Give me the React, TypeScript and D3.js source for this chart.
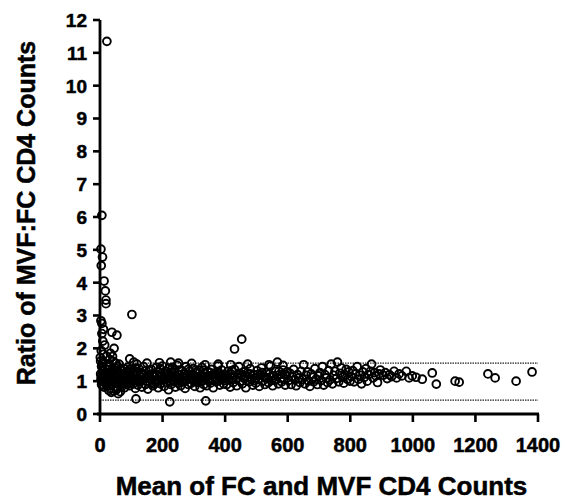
import React from "react";
import * as d3 from "d3";

const xTicks = [0, 200, 400, 600, 800, 1000, 1200, 1400];
const yTicks = [0, 1, 2, 3, 4, 5, 6, 7, 8, 9, 10, 11, 12];
const limitLines = [1.55, 0.42];
const xTitle = "Mean of FC and MVF CD4 Counts";
const yTitle = "Ratio of MVF:FC CD4 Counts";

// [mean CD4 count, ratio MVF:FC]
const lowCountPoints: [number, number][] = [
  [22,11.35],[6,6.05],[3,5.02],[8,4.78],[4,4.52],[13,4.05],[17,3.75],[19,3.47],[19,3.36],[3,2.84],[6,2.76],[11,2.58],[6,2.45],[38,2.49],[54,2.4],[45,2.0],[102,3.03],[9,2.22],[15,2.1],[4,1.93],[11,1.82],[21,1.76],[31,1.66],[2,1.61],[42,1.6],[50,1.55],[26,1.5],[61,1.52],[95,1.68],[5,1.45],[8,1.3],[12,1.2],[15,1.1],[18,0.95],[22,0.85],[25,1.35],[28,1.05],[32,0.78],[35,1.25],[38,0.92],[42,1.15],[45,0.7],[48,1.4],[52,1.0],[55,0.82],[58,1.22],[62,1.12],[65,0.68],[68,0.9],[72,1.32],[75,1.05],[78,0.8],[82,1.18],[85,0.95],[88,1.42],[92,1.08],[95,0.86],[98,1.28],[3,1.05],[7,0.88],[10,1.15],[14,0.98],[17,1.38],[21,1.25],[24,0.95],[27,1.12],[31,1.48],[34,1.02],[37,0.88],[41,1.3],[44,1.08],[47,0.96],[51,1.18],[56,1.45],[60,0.95],[64,1.25],[67,1.08],[70,0.84],[74,1.2],[77,1.38],[81,1.0],[84,1.28],[87,0.9],[91,1.15],[94,1.35],[97,1.02],[1,1.72],[2,1.22],[5,0.9],[9,1.55],[13,0.82],[28,0.72],[36,0.66],[52,0.74],[58,0.62],[40,1.75],[33,1.85],
  [4,1.15],[7,1.42],[11,1.02],[16,1.25],[20,1.12],[23,1.45],[29,1.2],[33,1.1],[39,1.02],[43,1.24],[49,1.12],[53,1.3],[57,1.05],[63,1.0],[66,1.35],[71,1.14],[76,0.96],[80,1.22],[86,1.1],[90,1.3],[93,0.98],[99,1.14]
];

const midCountPoints: [number, number][] = [
  [115,0.46],[223,0.37],[338,0.4],
  [108,1.58],[118,1.52],[150,1.55],[190,1.56],[226,1.58],[251,1.55],[293,1.54],[336,1.5],[378,1.52],
  [104,1.12],[106,0.92],[109,1.3],[111,1.02],[113,0.78],[116,1.22],[119,1.08],[121,0.88],[124,1.38],[126,1.15],[129,0.98],[131,1.26],[134,0.82],[137,1.05],[139,1.44],[142,1.18],[145,0.9],[147,1.32],[150,1.0],[153,0.76],[156,1.2],[158,1.1],[161,0.94],[164,1.36],[166,1.06],[169,0.86],[172,1.24],[175,1.14],[177,0.98],[180,1.42],[183,1.02],[186,0.8],[188,1.28],[191,1.12],[194,0.92],[197,1.18],[199,1.46],[202,1.04],[205,0.84],[208,1.3],[210,1.08],[213,0.96],[216,1.22],[219,0.74],[221,1.4],[224,1.1],[227,0.9],[230,1.26],[233,1.16],[235,1.0],[238,1.34],[241,0.82],[244,1.14],[247,1.48],[249,0.94],[252,1.2],[255,1.06],[258,0.86],[261,1.32],[263,1.12],[266,0.98],[269,1.24],[272,0.78],[275,1.44],[278,1.04],[280,1.16],[283,0.9],[286,1.3],[289,1.08],[292,0.94],[295,1.2],[298,1.38],[300,1.0],[303,0.84],[306,1.26],[309,1.12],[312,0.96],[315,1.34],[318,1.06],[320,0.8],[323,1.18],[326,1.42],[329,1.02],[332,0.9],[335,1.24],[338,1.1],[341,0.86],[344,1.3],[347,1.04],[350,1.16],[353,0.94],[356,1.36],[359,1.08],[362,0.8],[365,1.22],[368,1.12],[371,0.98],[374,1.28],[377,1.46],[380,1.02],[383,0.88],[386,1.18],[389,1.34],[392,1.06],[395,0.92],[398,1.2],
  [107,1.2],[128,1.05],[148,1.12],[168,1.18],[187,1.0],[207,1.15],[228,1.05],[248,1.1],[268,1.02],[287,1.18],[308,1.05],[328,1.14],[348,1.0],[367,1.24],[387,1.1],
  [112,1.4],[123,1.0],[135,1.22],[144,1.08],[157,1.32],[163,1.04],[174,0.92],[182,1.2],[193,1.38],[203,1.12],[212,1.3],[218,1.02],[232,1.42],[240,1.1],[253,1.34],[262,1.0],[271,1.14],[282,1.36],[291,1.1],[302,1.16],[311,1.28],[322,0.98],[331,1.34],[343,1.14],[352,1.26],[361,1.2],[372,1.06],[382,1.24],[391,1.16],[397,1.02]
];

const upperMidPoints: [number, number][] = [
  [430,1.98],[453,2.28],
  [402,1.14],[405,0.9],[409,1.3],[412,1.04],[416,0.82],[419,1.22],[423,1.1],[426,0.96],[430,1.36],[434,1.06],[437,0.86],[441,1.2],[444,1.44],[448,1.0],[452,1.16],[455,0.92],[459,1.28],[462,1.08],[466,0.8],[470,1.24],[473,1.12],[477,0.98],[480,1.38],[484,1.04],[488,0.88],[491,1.2],[495,1.1],[498,0.94],[502,1.32],[506,1.06],[509,0.84],[513,1.18],[516,1.4],[520,1.0],[524,1.14],[527,0.9],[531,1.26],[534,1.08],[538,0.96],[542,1.22],[545,1.46],[549,1.02],[552,0.86],[556,1.16],[560,1.3],[563,1.04],[567,1.58],[570,0.92],[574,1.2],[578,1.1],[581,0.98],[585,1.34],[588,1.06],[592,0.88],[596,1.18],[599,1.28],[418,1.5],[472,1.52],[540,1.5],[585,1.48],
  [407,1.18],[421,1.32],[439,1.1],[446,1.24],[464,1.16],[479,1.22],[493,1.02],[504,1.2],[518,1.26],[529,1.12],[547,1.14],[558,1.04],[572,1.3],[590,1.2],
  [603,1.02],[607,1.24],[611,0.9],[615,1.14],[619,1.36],[623,1.04],[627,0.86],[631,1.2],[635,1.1],[639,0.96],[643,1.3],[647,1.06],[651,1.5],[655,0.92],[659,1.18],[663,1.28],[667,1.0],[671,0.84],[675,1.22],[679,1.12],[683,0.98],[687,1.38],[691,1.06],[695,0.9],[699,1.16],[703,1.26],[707,1.02],[711,1.44],[715,0.88],[719,1.2],[723,1.1],[727,0.96],[731,1.32],[735,1.04],[739,1.52],[743,0.92],[747,1.18],[751,1.3],[755,1.08],[759,1.58],[763,0.98],[767,1.24],[771,1.4],[775,1.12],[779,0.94],[783,1.2],[787,1.36],[791,1.06],[795,1.28],[799,1.0]
];

const highCountPoints: [number, number][] = [
  [803,1.14],[808,1.32],[812,0.98],[817,1.22],[822,1.44],[826,1.06],[831,1.18],[836,0.92],[840,1.28],[845,1.12],[850,1.38],[854,1.0],[859,1.2],[864,1.3],[868,1.52],[873,1.1],[878,1.26],[882,1.16],[887,0.96],[892,1.22],[896,1.34],
  [905,1.18],[912,1.26],[918,1.08],[925,1.2],[932,1.14],[940,1.3],[948,1.1],[956,1.22],[965,1.16],[979,1.3],[988,1.1],[998,1.16],[1010,1.12],[1030,1.06],[1062,1.25],[1075,0.91],[1135,1.0],[1148,0.97],[1240,1.22],[1263,1.1],[1330,1.0],[1381,1.28]
];

const allPoints = [...lowCountPoints, ...midCountPoints, ...upperMidPoints, ...highCountPoints];

export default function App() {
  const W = 572, H = 501;
  const x = d3.scaleLinear().domain([0, 1400]).range([100, 538]);
  const y = d3.scaleLinear().domain([0, 12]).range([414, 20]);
  const font = "'Liberation Sans', Arial, sans-serif";
  return (
    <svg width={W} height={H} style={{ position: "absolute", left: 0, top: 0, background: "#fff" }}
      fontFamily={font} fontWeight="bold">
      {limitLines.map((v, i) => (
        <line key={i} x1={x(0)} x2={x(1400)} y1={y(v)} y2={y(v)} stroke="#222" strokeWidth={1.3} strokeDasharray="1.5,1" />
      ))}
      {allPoints.map((p, i) => (
        <circle key={i} cx={x(p[0])} cy={y(p[1])} r={3.9} fill="none" stroke="#000" strokeWidth={1.9} />
      ))}
      <line x1={x(0)} x2={x(0)} y1={y(0) + 1} y2={y(12)} stroke="#000" strokeWidth={2.8} />
      <line x1={x(0) - 3} x2={x(1400) + 1} y1={y(0)} y2={y(0)} stroke="#000" strokeWidth={2.8} />
      <g stroke="#000" strokeWidth={0.5}>
        {yTicks.map((t) => (
          <g key={t}>
            <line x1={x(0) - 7} x2={x(0)} y1={y(t)} y2={y(t)} stroke="#000" strokeWidth={2.6} />
            <text x={87} y={y(t)} dy="0.36em" textAnchor="end" fontSize={19}>{t}</text>
          </g>
        ))}
        {xTicks.map((t) => (
          <g key={t}>
            <line x1={x(t)} x2={x(t)} y1={y(0)} y2={y(0) + 8} stroke="#000" strokeWidth={2.6} />
            <text x={x(t)} y={452} textAnchor="middle" fontSize={20}>{t}</text>
          </g>
        ))}
        <text x={(115 + 528) / 2} y={495} textAnchor="middle" fontSize={26}>{xTitle}</text>
        <text transform={`translate(35, 213) rotate(-90)`} textAnchor="middle" fontSize={25}>{yTitle}</text>
      </g>
    </svg>
  );
}
